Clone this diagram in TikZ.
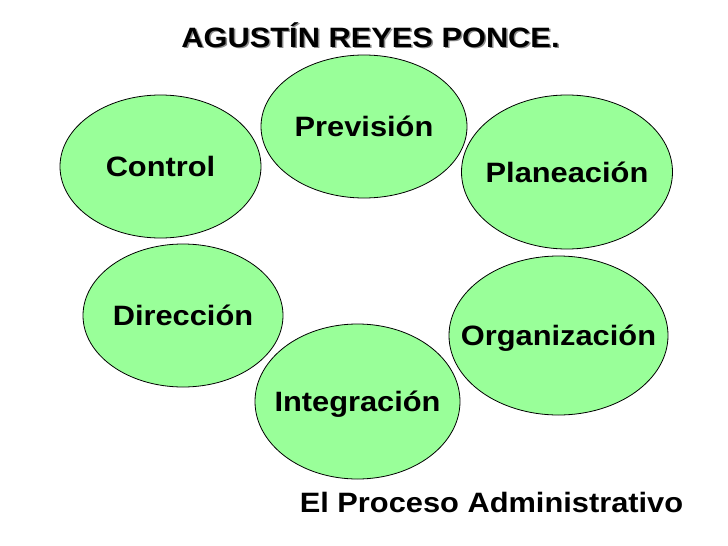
\documentclass[tikz,border=0pt]{standalone}
\usepackage{fontspec}
\setmainfont{Liberation Sans}
\newfontfamily\ancho[FakeStretch=1.1]{Liberation Sans}
\usetikzlibrary{shapes,positioning}
\definecolor{verdefase}{RGB}{153,255,153}
\definecolor{sombra}{RGB}{140,140,140}
\tikzset{
    fase/.style={ellipse,draw,line width=0.8pt,fill=verdefase,inner sep=0pt},
    rotulo/.style={inner sep=0pt,font=\ancho\bfseries\fontsize{28}{30}\selectfont,
                   text height=20pt,text depth=0pt},
}

\begin{document}
\begin{tikzpicture}[x=1pt,y=-1pt]

    \useasboundingbox[fill=white] (0,0) rectangle (728,546);

    % ---- titulo ----
    \node[rotulo,text=sombra] (titsombra) at (372,38.5) {AGUST\'IN REYES PONCE.};
    \node[rotulo] (titulo) at (370.5,37) {AGUST\'IN REYES PONCE.};

    % ---- etapas del proceso ----
    \node[fase,minimum width=206pt,minimum height=143pt,
          label={[rotulo]center:Previsión}] (prev) at (364,126.5) {};
    \node[fase,minimum width=211pt,minimum height=154pt,
          label={[rotulo]center:Planeación}] (plan) at (567,172) {};
    \node[fase,minimum width=219pt,minimum height=159pt,
          label={[rotulo]center:Organización}] (org) at (558.5,335.5) {};
    \node[fase,minimum width=205pt,minimum height=155pt,
          label={[rotulo]center:Integración}] (integ) at (357.5,401.5) {};
    \node[fase,minimum width=200pt,minimum height=143pt,
          label={[rotulo]center:Dirección}] (dir) at (183,315.5) {};
    \node[fase,minimum width=201pt,minimum height=143pt,
          label={[rotulo]center:Control}] (ctrl) at (160.5,166.5) {};

    % ---- pie ----
    \node[rotulo] (pie) at (491.5,502) {El Proceso Administrativo};

\end{tikzpicture}
\end{document}
